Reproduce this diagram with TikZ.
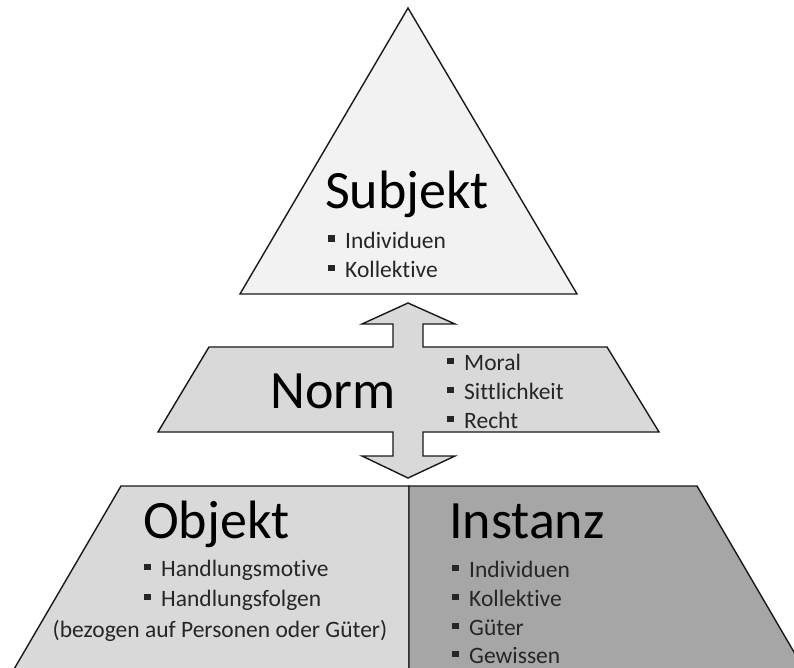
\documentclass[tikz,border=0pt]{standalone}
\usepackage{fontspec}
\setmainfont{Carlito}[Ligatures={NoCommon,NoRare}]
\definecolor{triFill}{HTML}{F2F2F2}
\definecolor{normFill}{HTML}{D9D9D9}
\definecolor{instFill}{HTML}{A6A6A6}
\definecolor{itemText}{HTML}{262626}
\newcommand\bul{\rule[6pt]{6.5pt}{6.5pt}\hspace{10.5pt}}
\begin{document}
\begin{tikzpicture}[x=1pt,y=-1pt,
  shapeline/.style={draw=black!90, line width=1.4pt, line join=miter},
  title/.style={anchor=base west, inner sep=0pt, font=\fontsize{54}{54}\selectfont},
  item/.style={anchor=base west, inner sep=0pt, font=\fontsize{23.5}{24}\selectfont, text=itemText}]
\useasboundingbox (0,0) rectangle (794,668);
\clip (0,0) rectangle (794,668);
% Subjekt triangle
\draw[shapeline, fill=triFill] (408,8) -- (577,294) -- (240,294) -- cycle;
% Norm trapezoid merged with double arrow
\draw[shapeline, fill=normFill]
  (408,303) -- (455,324) -- (423,324) -- (423,347) -- (607,347) -- (659,432)
  -- (423,432) -- (423,456) -- (455,456) -- (408,478) -- (362,456) -- (393,456)
  -- (393,432) -- (158,432) -- (209,347) -- (393,347) -- (393,324) -- (362,324) -- cycle;
% bottom trapezoid
\draw[shapeline, fill=normFill] (121,486) -- (409,486) -- (409,700) -- (-4,700) -- cycle;
\draw[shapeline, fill=instFill] (409,486) -- (697,486) -- (822,700) -- (409,700) -- cycle;
% texts
\node[title] (subj) at (325,208) {Subjekt};
\node[item] (s1) at (328,248) {\bul Individuen};
\node[item] (s2) at (328,277) {\bul Kollektive};
\node[title] (norm) at (270,408) {Norm};
\node[item] (n1) at (447,370) {\bul Moral};
\node[item] (n2) at (447,399) {\bul Sittlichkeit};
\node[item] (n3) at (447,428) {\bul Recht};
\node[title] (obj) at (143,538) {Objekt};
\node[item] (o1) at (144,576) {\bul Handlungsmotive};
\node[item] (o2) at (144,606) {\bul Handlungsfolgen};
\node[item, anchor=base] (o3) at (220,637) {(bezogen auf Personen oder Güter)};
\node[title] (inst) at (449,538) {Instanz};
\node[item] (i1) at (452,577) {\bul Individuen};
\node[item] (i2) at (452,606) {\bul Kollektive};
\node[item] (i3) at (452,635) {\bul Güter};
\node[item] (i4) at (452,663) {\bul Gewissen};
\end{tikzpicture}
\end{document}
